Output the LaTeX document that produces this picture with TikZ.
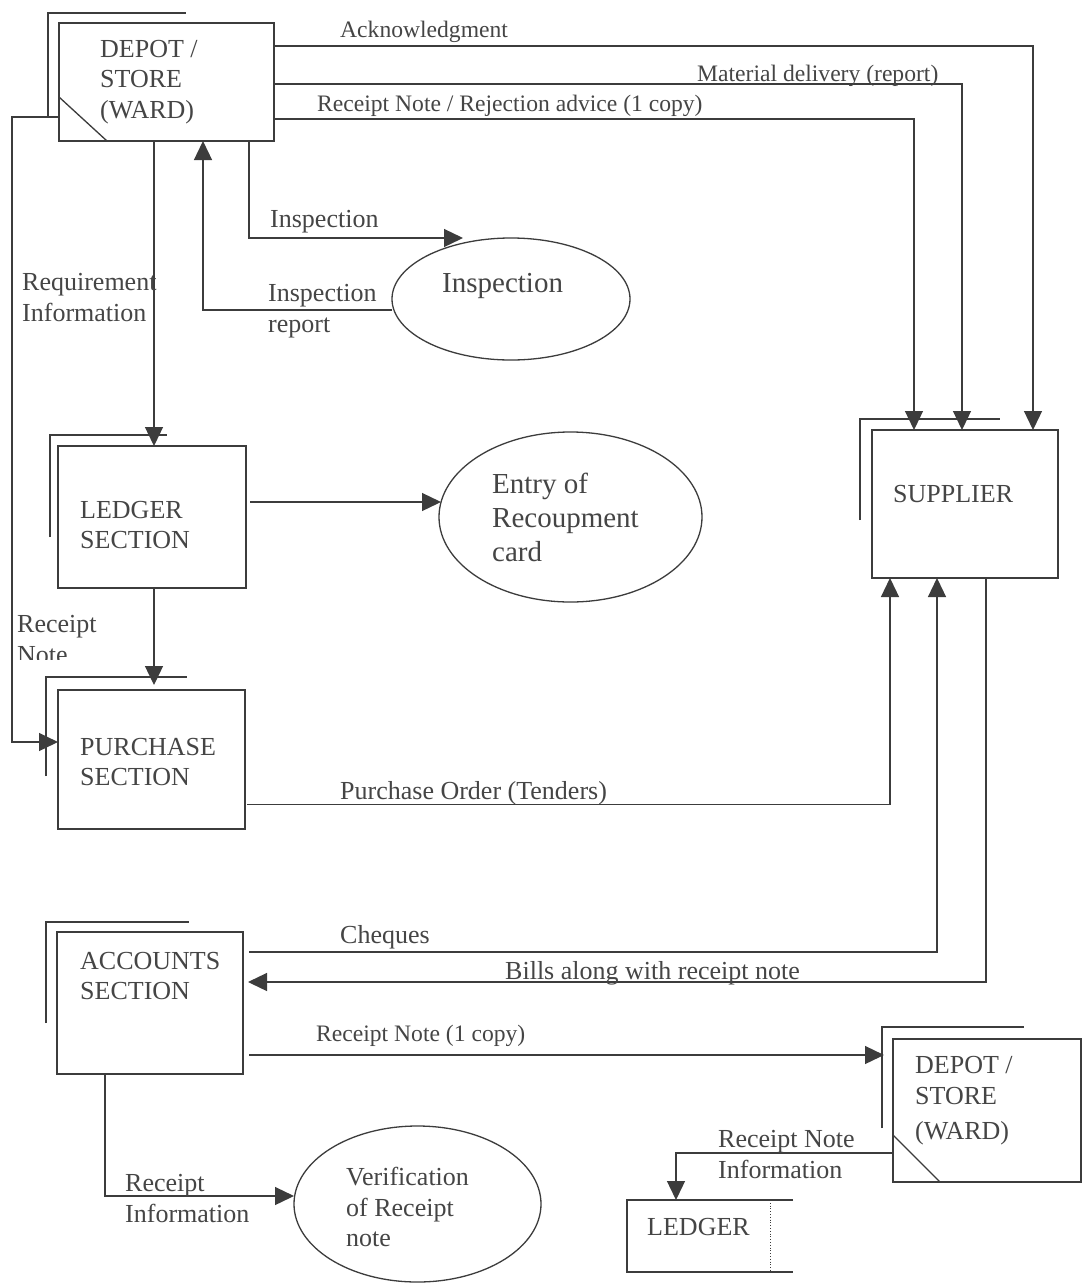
\documentclass[tikz,border=0pt]{standalone}
\usepackage{fontspec}
\setmainfont{Liberation Serif}
\usetikzlibrary{arrows.meta,shapes.geometric}
\definecolor{linegray}{HTML}{3C3C3C}
\definecolor{txtgray}{HTML}{454545}
\begin{document}
\begin{tikzpicture}[x=1pt,y=-1pt,
  ln/.style={draw=linegray, line width=1.3pt},
  flow/.style={ln, -{Triangle[length=19pt,width=18pt]}},
  entity/.style={ln, rectangle, inner sep=0pt, outer sep=0pt},
  process/.style={ln, ellipse, inner sep=0pt, outer sep=0pt},
  boxtext/.style={anchor=west, inner sep=0pt, text=txtgray, align=left,
    font=\fontsize{26}{30.5}\selectfont},
  proctext/.style={anchor=west, inner sep=0pt, text=txtgray, align=left,
    font=\fontsize{29}{34}\selectfont},
  lbl/.style={anchor=west, inner sep=0pt, text=txtgray, align=left,
    font=\fontsize{26}{31}\selectfont},
  smalllbl/.style={anchor=west, inner sep=0pt, text=txtgray,
    font=\fontsize{23.6}{28}\selectfont}
]
\useasboundingbox[fill=white] (0,0) rectangle (1087,1283);

% external entities
\node[entity, minimum width=215pt, minimum height=118pt] (depot) at (166.5,82) {};
\node[entity, minimum width=186pt, minimum height=148pt] (supplier) at (965,504) {};
\node[entity, minimum width=188pt, minimum height=142pt] (ledger) at (152,517) {};
\node[entity, minimum width=187pt, minimum height=139pt] (purchase) at (151.5,759.5) {};
\node[entity, minimum width=186pt, minimum height=142pt] (accounts) at (150,1003) {};
\node[entity, minimum width=188pt, minimum height=143pt] (depotb) at (987,1110.5) {};

% duplicate-entity corner lines
\draw[ln] (48,117) |- (186,13);
\draw[ln] (860,520) |- (1000,419);
\draw[ln] (50,537) |- (167,435);
\draw[ln] (46,776) |- (187,677);
\draw[ln] (46,1023) |- (189,922);
\draw[ln] (882,1128) |- (1024,1027);

% store marks
\draw[ln] ([yshift=-74pt]depot.north west) -- ([xshift=48pt]depot.south west);
\draw[ln] ([yshift=-96pt]depotb.north west) -- ([xshift=47pt]depotb.south west);

% data store
\node[inner sep=0pt, outer sep=0pt, minimum width=166pt, minimum height=72pt] (ledgerbook) at (710,1236) {};
\draw[ln] (ledgerbook.north east) -- (ledgerbook.north west) -- (ledgerbook.south west) -- (ledgerbook.south east);
\draw[draw=linegray, line width=0.8pt, dotted] ([xshift=-23pt]ledgerbook.north east) -- ([xshift=-23pt]ledgerbook.south east);

% processes
\node[process, minimum width=238pt, minimum height=122pt] (insp) at (511,299) {};
\node[process, minimum width=263pt, minimum height=170pt] (recoup) at (570.5,517) {};
\node[process, minimum width=247pt, minimum height=156pt] (verif) at (417.5,1204) {};

% entity and process texts
\node[boxtext] (tdepot) at (100,82) {DEPOT /\\STORE\\(WARD)};
\node[boxtext] (tsupplier) at (893,494) {SUPPLIER};
\node[boxtext] (tledger) at (80,525) {LEDGER\\SECTION};
\node[boxtext] (tpurchase) at (80,762) {PURCHASE\\SECTION};
\node[boxtext] (taccounts) at (80,976) {ACCOUNTS\\SECTION};
\node[boxtext] (tdepotb) at (915,1101) {DEPOT /\\STORE\\[5pt](WARD)};
\node[boxtext] (tledgerbook) at (647,1227) {LEDGER};
\node[proctext] (tinsp) at (442,286) {Inspection};
\node[proctext] (trecoup) at (492,517) {Entry of\\Recoupment\\card};
\node[boxtext] (tverif) at (346,1207) {Verification\\of Receipt\\note};

% data flows
\draw[flow] ([yshift=-23pt]depot.north east) -| ([xshift=-25pt]supplier.north east);
\draw[flow] ([yshift=-61pt]depot.north east) -| ([xshift=-96pt]supplier.north east);
\draw[flow] ([yshift=-96pt]depot.north east) -| ([xshift=42pt]supplier.north west);
\draw[flow] ([xshift=-25pt]depot.south east) |- ([xshift=-48pt]insp.north);
\draw[flow] ([yshift=-11pt]insp.west) -| ([xshift=36.5pt]depot.south);
\draw[flow] ([xshift=2pt]ledger.north |- depot.south) -- ([xshift=2pt]ledger.north);
\draw[flow] ([yshift=-94pt]depot.north west) -- ++(-47pt,0) |- ([yshift=17.5pt]purchase.west);
\draw[flow] ([xshift=2.5pt]purchase.north |- ledger.south) -- ([xshift=2.5pt,yshift=5pt]purchase.north);
\draw[flow] ([yshift=15pt,xshift=4pt]ledger.east) -- ([yshift=15pt,xshift=2pt]ledger.east -| recoup.west);
\draw[flow] ([yshift=-45pt,xshift=2pt]purchase.east) -| ([xshift=18pt]supplier.south west);
\draw[flow] ([yshift=-20pt,xshift=6pt]accounts.north east) -| ([xshift=65pt]supplier.south west);
\draw[flow] ([xshift=-72pt]supplier.south east) |- ([yshift=-50pt,xshift=5pt]accounts.north east);
\draw[flow] ([yshift=-123pt,xshift=6pt]accounts.north east) -- ([yshift=-16pt,xshift=-9pt]depotb.north west);
\draw[flow] ([xshift=-45pt]accounts.south) |- ([yshift=8pt]verif.west);
\draw[flow] ([yshift=-114pt]depotb.north west) -| ([xshift=49pt]ledgerbook.north west);

% flow labels
\node[smalllbl] (lack) at (340,32) {Acknowledgment};
\node[smalllbl] (lmat) at (697,76) {Material delivery (report)};
\node[smalllbl] (lrej) at (317,106) {Receipt Note / Rejection advice (1 copy)};
\node[lbl] (linsp) at (270,222) {Inspection};
\node[lbl] (lrep) at (268,311) {Inspection\\report};
\node[lbl] (lreq) at (22,298) {Requirement\\Information};
\begin{scope}
  \clip (0,600) rectangle (120,659);
  \node[lbl] (lrcpt) at (17,640) {Receipt\\Note};
\end{scope}
\node[lbl] (lpo) at (340,793) {Purchase Order (Tenders)};
\node[lbl] (lchq) at (340,937) {Cheques};
\node[lbl] (lbills) at (505,973) {Bills along with receipt note};
\node[smalllbl] (lcopy) at (316,1036) {Receipt Note (1 copy)};
\node[lbl] (lrni) at (718,1155) {Receipt Note\\Information};
\node[lbl] (lri) at (125,1199) {Receipt\\Information};
\end{tikzpicture}
\end{document}
